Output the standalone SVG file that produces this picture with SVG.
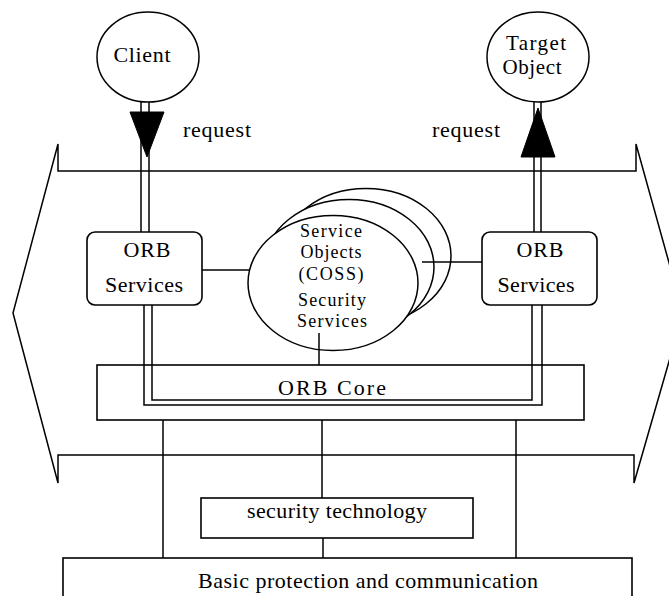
<svg xmlns="http://www.w3.org/2000/svg" width="669" height="596" viewBox="0 0 669 596">
  <style>
    .ln { fill: none; stroke: #000; stroke-width: 1.5; }
    .box { fill: #fff; stroke: #000; stroke-width: 1.6; }
    .open { fill: none; stroke: #000; stroke-width: 1.6; }
    .ell { fill: #fff; stroke: #000; stroke-width: 1.5; }
    .head { fill: #000; stroke: #000; stroke-width: 1; }
    text { font-family: "Liberation Serif", "Times New Roman", serif; fill: #000; text-anchor: middle; }
    .t22 { font-size: 22px; }
    .t21 { font-size: 21px; }
    .t18 { font-size: 18px; }
  </style>
  <rect width="669" height="596" fill="#fff"/>

  <!-- bracket frames around the ORB layer -->
  <g id="frame">
    <path class="ln" d="M58,171 L58,144 L13,313 L58,483 L58,455 L634,455 L634,483 L683,313 L636,144 L636,171 Z"/>
  </g>

  <!-- connectors -->
  <g id="connectors">
    <!-- client request path -->
    <line class="ln" x1="141" y1="100" x2="141" y2="232"/>
    <line class="ln" x1="149" y1="100" x2="149" y2="232"/>
    <polygon class="head" points="130,112 164,112 147,157"/>
    <!-- path through the ORB core -->
    <polyline class="ln" points="144,305 144,405 542,405 542,305"/>
    <polyline class="ln" points="152,305 152,400 532,400 532,305"/>
    <!-- target request path -->
    <line class="ln" x1="534" y1="232" x2="534" y2="102"/>
    <line class="ln" x1="541" y1="232" x2="541" y2="102"/>
    <polygon class="head" points="521,157 555,157 538,108"/>
    <!-- links to the service objects -->
    <line class="ln" x1="202" y1="270" x2="249" y2="270"/>
    <!-- core to lower layers -->
    <line class="ln" x1="163" y1="420" x2="163" y2="558"/>
    <line class="ln" x1="322" y1="420" x2="322" y2="498"/>
    <line class="ln" x1="516" y1="420" x2="516" y2="558"/>
    <line class="ln" x1="323" y1="538" x2="323" y2="558"/>
  </g>

  <g id="client">
    <ellipse class="ell" cx="148" cy="57" rx="51" ry="45"/>
    <text class="t22" x="142" y="62" textLength="57" lengthAdjust="spacing">Client</text>
  </g>

  <g id="target-object">
    <ellipse class="ell" cx="538" cy="57" rx="51" ry="45"/>
    <text class="t21" x="536" y="50" textLength="60" lengthAdjust="spacing">Target</text>
    <text class="t21" x="532" y="74" textLength="59" lengthAdjust="spacing">Object</text>
  </g>

  <g id="request-labels">
    <text class="t22" x="217" y="137" textLength="68" lengthAdjust="spacing">request</text>
    <text class="t22" x="466" y="137" textLength="68" lengthAdjust="spacing">request</text>
  </g>

  <g id="orb-services-left">
    <rect class="box" x="87" y="232" width="115" height="73" rx="8"/>
    <text class="t22" x="147" y="257" textLength="47" lengthAdjust="spacing">ORB</text>
    <text class="t22" x="144" y="292" textLength="78" lengthAdjust="spacing">Services</text>
  </g>

  <g id="orb-services-right">
    <rect class="box" x="482" y="232" width="115" height="73" rx="8"/>
    <text class="t22" x="540" y="257" textLength="47" lengthAdjust="spacing">ORB</text>
    <text class="t22" x="536" y="292" textLength="77" lengthAdjust="spacing">Services</text>
  </g>

  <g id="service-objects">
    <ellipse class="ell" cx="366" cy="256" rx="85" ry="67.5"/>
    <ellipse class="ell" cx="349" cy="267" rx="85" ry="67.5"/>
    <ellipse class="ell" cx="333" cy="283" rx="85" ry="67.5"/>
    <text class="t18" x="331" y="237" textLength="62" lengthAdjust="spacing">Service</text>
    <text class="t18" x="331" y="258" textLength="61" lengthAdjust="spacing">Objects</text>
    <text class="t18" x="331" y="280" textLength="65" lengthAdjust="spacing">(COSS)</text>
    <text class="t18" x="332" y="306" textLength="68" lengthAdjust="spacing">Security</text>
    <text class="t18" x="332" y="327" textLength="70" lengthAdjust="spacing">Services</text>
    <line class="ln" x1="422" y1="262" x2="482" y2="262"/>
    <line class="ln" x1="319" y1="333" x2="319" y2="365"/>
  </g>

  <g id="orb-core">
    <rect class="open" x="97" y="365" width="487" height="55"/>
    <text class="t22" x="332" y="395" textLength="108" lengthAdjust="spacing">ORB Core</text>
  </g>

  <g id="security-technology">
    <rect class="box" x="201" y="498" width="272" height="40"/>
    <text class="t22" x="337" y="518" textLength="180" lengthAdjust="spacing">security technology</text>
  </g>

  <g id="basic-protection">
    <rect class="box" x="63" y="558" width="569" height="60"/>
    <text class="t22" x="368" y="588" textLength="340" lengthAdjust="spacing">Basic protection and communication</text>
  </g>
</svg>
